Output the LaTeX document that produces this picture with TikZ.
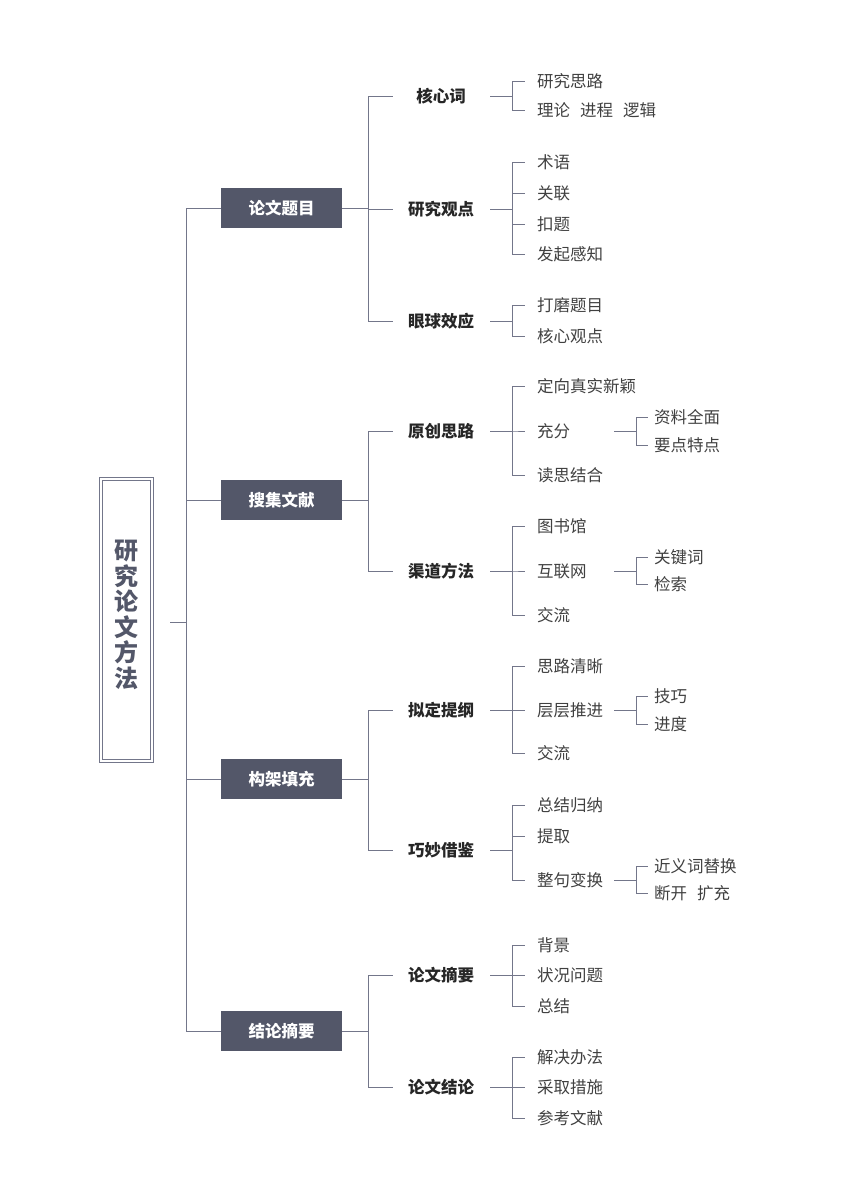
\documentclass[tikz,border=0pt]{standalone}
\usepackage{fontspec}
\setmainfont{Noto Sans CJK SC}
\begin{document}
\begin{tikzpicture}[x=1pt,y=-1pt,
  ln/.style={draw=lc,line width=0.8pt},
  l1/.style={fill=bx,text=white,font=\fontsize{16.5}{18}\selectfont\bfseries,minimum width=121pt,minimum height=40pt,inner sep=0pt},
  l2/.style={font=\fontsize{16.5}{18}\selectfont\bfseries,text=black!85,inner sep=0pt},
  l3/.style={font=\fontsize{16.5}{18}\selectfont,text=black!75,anchor=west,inner sep=0pt}]
\definecolor{lc}{HTML}{73768A}
\definecolor{bx}{HTML}{535769}
\useasboundingbox (0,0) rectangle (848,1200);
\newcommand\Ltwo[4]{\node[l2] (#1) at (441,#2) {#3};
  \coordinate (#1o) at (490,#2); \coordinate (#1i) at (393,#2);
  \draw[ln] (#4.east) -- ++(26,0) |- (#1i);}
\newcommand\Lthree[4]{\node[l3] (#1) at (537,#2) {#3};
  \coordinate (#1i) at (525,#2); \coordinate (#1o) at (614,#2);
  \draw[ln] (#4o) -- ++(22,0) |- (#1i);}
\newcommand\Lfour[4]{\node[l3] (#1) at (654,#2) {#3};
  \coordinate (#1i) at (648,#2);
  \draw[ln] (#4o) -- ++(22,0) |- (#1i);}
% root
\node[draw=lc,line width=0.8pt,minimum width=54pt,minimum height=285pt] (root) at (126,619.5) {};
\draw[lc,line width=0.8pt] (102,480) rectangle (150,759);
\node[font=\fontsize{24}{25.5}\selectfont\bfseries,text=bx,align=center] (rt) at (126,615) {研\\究\\论\\文\\方\\法};
\coordinate (tr) at (186,622);
\node[l1] (A) at (281.5,208) {论文题目};
\node[l1] (B) at (281.5,500) {搜集文献};
\node[l1] (C) at (281.5,779) {构架填充};
\node[l1] (D) at (281.5,1031) {结论摘要};
\draw[ln] (170,622) -- (tr);
\foreach \n in {A,B,C,D}{\draw[ln] (tr) |- (\n.west);}
\Ltwo{a1}{96}{核心词}{A}
\Ltwo{a2}{209}{研究观点}{A}
\Ltwo{a3}{321}{眼球效应}{A}
\Ltwo{b1}{431}{原创思路}{B}
\Ltwo{b2}{571}{渠道方法}{B}
\Ltwo{c1}{710}{拟定提纲}{C}
\Ltwo{c2}{850}{巧妙借鉴}{C}
\Ltwo{d1}{975}{论文摘要}{D}
\Ltwo{d2}{1087}{论文结论}{D}
\Lthree{a11}{81}{研究思路}{a1}
\Lthree{a12}{110}{理论\hspace{0.6em}进程\hspace{0.6em}逻辑}{a1}
\Lthree{a21}{162}{术语}{a2}
\Lthree{a22}{193}{关联}{a2}
\Lthree{a23}{224}{扣题}{a2}
\Lthree{a24}{254}{发起感知}{a2}
\Lthree{a31}{305}{打磨题目}{a3}
\Lthree{a32}{336}{核心观点}{a3}
\Lthree{b11}{386}{定向真实新颖}{b1}
\Lthree{b12}{431}{充分}{b1}
\Lthree{b13}{475}{读思结合}{b1}
\Lfour{b121}{417}{资料全面}{b12}
\Lfour{b122}{445}{要点特点}{b12}
\Lthree{b21}{526}{图书馆}{b2}
\Lthree{b22}{571}{互联网}{b2}
\Lthree{b23}{615}{交流}{b2}
\Lfour{b221}{557}{关键词}{b22}
\Lfour{b222}{584}{检索}{b22}
\Lthree{c11}{666}{思路清晰}{c1}
\Lthree{c12}{710}{层层推进}{c1}
\Lthree{c13}{753}{交流}{c1}
\Lfour{c121}{696}{技巧}{c12}
\Lfour{c122}{724}{进度}{c12}
\Lthree{c21}{805}{总结归纳}{c2}
\Lthree{c22}{836}{提取}{c2}
\Lthree{c23}{880}{整句变换}{c2}
\Lfour{c231}{866}{近义词替换}{c23}
\Lfour{c232}{893}{断开\hspace{0.6em}扩充}{c23}
\Lthree{d11}{945}{背景}{d1}
\Lthree{d12}{975}{状况问题}{d1}
\Lthree{d13}{1006}{总结}{d1}
\Lthree{d21}{1057}{解决办法}{d2}
\Lthree{d22}{1087}{采取措施}{d2}
\Lthree{d23}{1118}{参考文献}{d2}
\end{tikzpicture}
\end{document}
